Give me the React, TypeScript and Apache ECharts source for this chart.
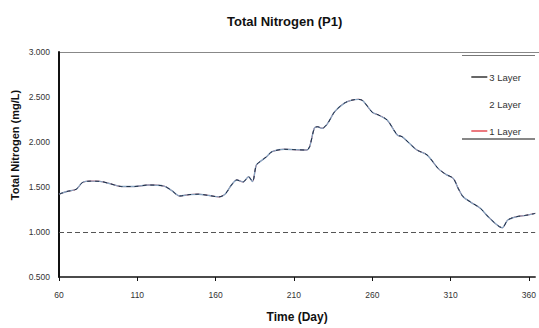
import React, { useEffect, useRef } from "react";
import * as echarts from "echarts";

const days = [60, 65, 71, 75, 80, 86, 93, 100, 108, 117, 127, 132, 137, 143, 149, 156, 162, 166, 170, 173.5, 177.5, 181, 183.5, 186, 189, 192.5, 196, 204, 210, 218, 220, 223, 225, 228, 231.5, 236, 242, 247, 251, 254, 260, 264, 269.5, 276, 279, 284, 288.5, 295, 302, 307, 311.7, 315, 318, 323, 329, 335, 343, 346.5, 352, 358, 364];
const nitrogen = [1.42, 1.45, 1.475, 1.55, 1.565, 1.563, 1.535, 1.505, 1.505, 1.522, 1.51, 1.46, 1.4, 1.415, 1.42, 1.405, 1.39, 1.42, 1.52, 1.578, 1.556, 1.614, 1.56, 1.744, 1.79, 1.837, 1.892, 1.919, 1.915, 1.911, 1.948, 2.152, 2.17, 2.152, 2.207, 2.337, 2.43, 2.465, 2.474, 2.459, 2.33, 2.3, 2.244, 2.078, 2.059, 1.98, 1.911, 1.856, 1.707, 1.64, 1.596, 1.48, 1.392, 1.33, 1.263, 1.152, 1.048, 1.133, 1.17, 1.185, 1.207];
const seriesNames = ["3 Layer", "2 Layer", "1 Layer"];
const xTicks = [60, 110, 160, 210, 260, 310, 360];
const standardLine = 1.0;

export default function App() {
  const ref = useRef<HTMLDivElement>(null);
  useEffect(() => {
    if (!ref.current) return;
    const chart = echarts.init(ref.current, undefined, { renderer: "svg" });
    const pts = days.map((d, i) => [d, nitrogen[i]]);
    const font = "'Liberation Sans', Arial, sans-serif";
    chart.setOption({
      animation: false,
      backgroundColor: "#fff",
      title: {
        text: "Total Nitrogen (P1)",
        left: 222,
        top: 10,
        textStyle: { fontSize: 13, fontWeight: "bold", color: "#111", fontFamily: font },
      },
      grid: { left: 59, top: 52, right: 0, bottom: 49, show: false },
      legend: {
        orient: "vertical",
        right: 13,
        top: 67,
        itemGap: 17,
        itemWidth: 16,
        itemHeight: 1.2,
        icon: "rect",
        textStyle: { fontSize: 9.5, color: "#333", fontFamily: font, padding: [0, 0, 0, -3] },
        data: [
          { name: seriesNames[0], itemStyle: { color: "#000" } },
          { name: seriesNames[1], itemStyle: { color: "transparent" } },
          { name: seriesNames[2], itemStyle: { color: "#e0202a" } },
        ],
      },
      xAxis: {
        type: "value",
        min: 60,
        max: 364,
        interval: 50,
        name: "Time (Day)",
        nameLocation: "middle",
        nameGap: 34,
        nameTextStyle: { fontSize: 12, fontWeight: "bold", color: "#111", fontFamily: font },
        axisLine: { lineStyle: { color: "#111", width: 1.5 } },
        axisTick: { show: true, length: 4, lineStyle: { color: "#111" } },
        splitLine: { show: false },
        axisLabel: {
          fontSize: 8.5,
          color: "#333",
          margin: 13,
          fontFamily: font,
          showMaxLabel: false,
          formatter: (v: number) => (xTicks.includes(v) ? String(v) : ""),
        },
      },
      yAxis: {
        type: "value",
        min: 0.5,
        max: 3,
        interval: 0.5,
        axisLine: { show: true, lineStyle: { color: "#111", width: 2 } },
        axisTick: { show: false },
        splitLine: { show: false },
        axisLabel: {
          fontSize: 8.5,
          color: "#333",
          margin: 9,
          fontFamily: font,
          formatter: (v: number) => v.toFixed(3),
        },
      },
      series: [
        {
          name: seriesNames[2],
          type: "line",
          data: pts,
          smooth: 0.3,
          showSymbol: false,
          lineStyle: { color: "#e0202a", width: 1 },
          itemStyle: { color: "#e0202a" },
          z: 1,
          markLine: {
            silent: true,
            symbol: "none",
            label: { show: false },
            lineStyle: { color: "#555", type: [5, 3], width: 1.2 },
            data: [{ yAxis: standardLine }],
          },
        },
        {
          name: seriesNames[1],
          type: "line",
          data: pts,
          smooth: 0.3,
          showSymbol: false,
          lineStyle: { color: "#86a3c0", width: 1.4 },
          itemStyle: { color: "#86a3c0" },
          z: 2,
        },
        {
          name: seriesNames[0],
          type: "line",
          data: pts,
          smooth: 0.3,
          showSymbol: false,
          lineStyle: { color: "#1d2e45", width: 1, type: [4, 4] },
          itemStyle: { color: "#000" },
          z: 3,
        },
      ],
      graphic: [
        {
          type: "text",
          x: 15,
          y: 145,
          rotation: Math.PI / 2,
          style: {
            text: "Total Nitrogen (mg/L)",
            fontSize: 11,
            fontWeight: "bold",
            fill: "#111",
            fontFamily: font,
            align: "center",
            verticalAlign: "middle",
          },
        },
        { type: "line", shape: { x1: 59, y1: 52.5, x2: 539, y2: 52.5 }, style: { stroke: "#888", lineWidth: 1 } },
        { type: "line", shape: { x1: 462, y1: 55.5, x2: 535, y2: 55.5 }, style: { stroke: "#777", lineWidth: 1.2 } },
        { type: "line", shape: { x1: 462, y1: 139, x2: 535, y2: 139 }, style: { stroke: "#111", lineWidth: 1.2 } },
      ],
    });
    return () => chart.dispose();
  }, []);
  return <div ref={ref} style={{ width: 539, height: 328, position: "absolute", left: 0, top: 0 }} />;
}
